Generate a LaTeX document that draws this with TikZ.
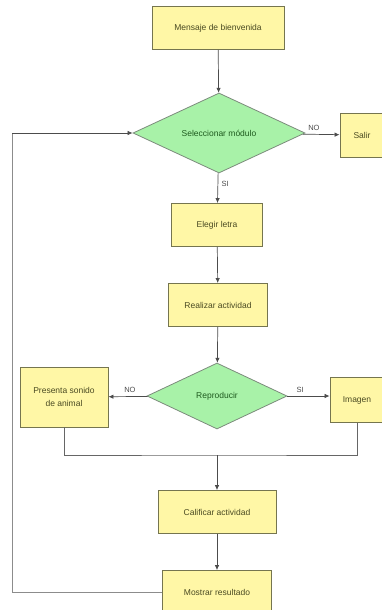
\documentclass[tikz,border=0pt]{standalone}
\usepackage{fontspec}
\setmainfont{Liberation Sans}
\usetikzlibrary{shapes.geometric,arrows.meta}
\definecolor{boxfill}{HTML}{FFF7A6}
\definecolor{boxline}{HTML}{75754F}
\definecolor{decfill}{HTML}{A8F2A8}
\definecolor{decline}{HTML}{7C8C7C}
\definecolor{boxtext}{HTML}{4A4A22}
\definecolor{dectext}{HTML}{1E5A1E}
\begin{document}
\begin{tikzpicture}[x=1pt, y=-1pt, font=\fontsize{8.5}{10.5}\selectfont]
  \tikzset{proc/.style={draw=boxline, fill=boxfill, line width=0.9pt, text=boxtext,
                        align=center, inner sep=0pt, minimum height=43pt},
           cond/.style={diamond, draw=decline, fill=decfill, line width=0.8pt, text=dectext,
                        inner sep=0pt, aspect=2.1},
           flow/.style={draw=black!70, line width=0.7pt, -{Latex[length=5pt,width=4.5pt]}},
           link/.style={draw=black!60, line width=0.7pt},
           lbl/.style={text=black!70, font=\fontsize{7.5}{9}\selectfont}}
  \useasboundingbox (0,0) rectangle (381,610);
  \fill[white] (0,0) rectangle (381,610);
  % main column
  \node[proc, minimum width=132pt] (bienvenida) at (218,28) {Mensaje de bienvenida};
  \node[cond, minimum width=172pt, minimum height=80pt] (modulo) at (219,133) {Seleccionar módulo};
  \node[proc, minimum width=44pt, minimum height=44pt] (salir) at (362,135) {Salir};
  \node[proc, minimum width=91pt] (letra) at (217,225) {Elegir letra};
  \node[proc, minimum width=99pt] (actividad) at (218,305) {Realizar actividad};
  \node[cond, minimum width=140pt, minimum height=66pt] (reproducir) at (217,396) {Reproducir};
  \node[proc, minimum width=88pt, minimum height=60pt] (sonido) at (64,397) {Presenta sonido\\[3pt]de animal};
  \node[proc, minimum width=54pt, minimum height=45pt] (imagen) at (357,400) {Imagen};
  \node[proc, minimum width=118pt] (calificar) at (217,512) {Calificar actividad};
  \node[proc, minimum width=109pt] (resultado) at (217,592) {Mostrar resultado};
  % joins
  \coordinate (junta) at (217,455);
  \coordinate (izqa) at (12,592);
  \coordinate (izqb) at (12,133);
  % connectors
  \draw[flow] (bienvenida) -- (modulo);
  \draw[flow] (modulo) -- node[lbl, above, pos=0.3] {NO} (salir);
  \draw[flow] (modulo) -- node[lbl, right, pos=0.35] {SI} (letra);
  \draw[flow] (letra) -- (actividad);
  \draw[flow] (actividad) -- (reproducir);
  \draw[flow] (reproducir) -- node[lbl, above, pos=0.45] {NO} (sonido);
  \draw[flow] (reproducir) -- node[lbl, above, pos=0.3] {SI} (imagen.west |- reproducir);
  \draw[link] (sonido) |- (junta) -| (imagen);
  \draw[flow] (junta) -- (calificar);
  \draw[flow] (calificar) -- (resultado);
  \draw[link, draw=black!45] (resultado) -- (izqa) -- (izqb);
  \draw[flow] (izqb) -- (modulo);
\end{tikzpicture}
\end{document}
